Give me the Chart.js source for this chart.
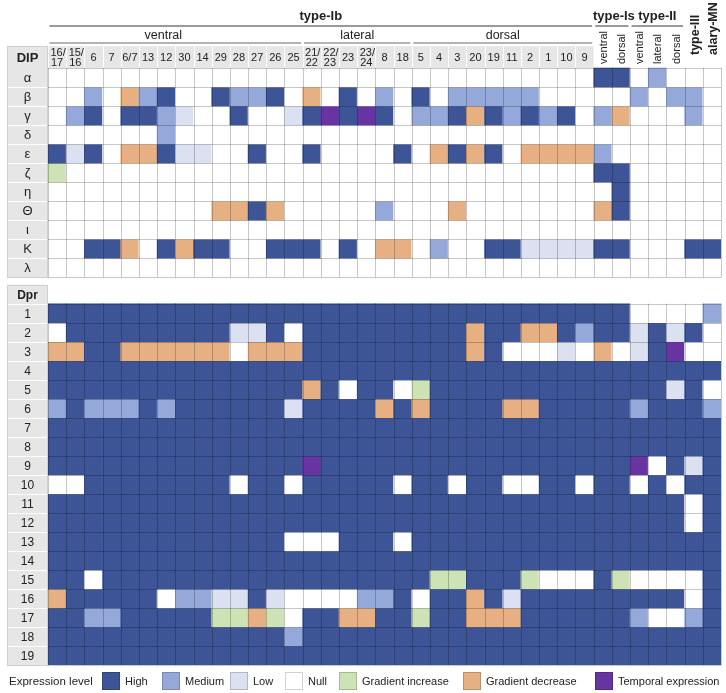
<!DOCTYPE html>
<html>
<head>
<meta charset="utf-8">
<script src="https://cdn.jsdelivr.net/npm/chart.js@4.4.1/dist/chart.umd.min.js"></script>
<style>
  body { margin: 0; background: #fff; }
  #wrap { width: 726px; height: 693px; }
</style>
</head>
<body>
<div id="wrap"><canvas id="heat"></canvas></div>
<script>
// columns (motor neuron targets / muscles)
const columns = ['16/17', '15/16', '6', '7', '6/7', '13', '12', '30', '14', '29', '28', '27', '26', '25',
  '21/22', '22/23', '23', '23/24', '8', '18',
  '5', '4', '3', '20', '19', '11', '2', '1', '10', '9',
  'ventral', 'dorsal', 'ventral', 'lateral', 'dorsal', 'type-III', 'alary-MN'];

const typeGroups = ['type-Ib', 'type-Is', 'type-II'];
const typeSpans = [[0, 29], [30, 31], [32, 34]];
const ibGroups = ['ventral', 'lateral', 'dorsal'];
const ibSpans = [[0, 13], [14, 19], [20, 29]];

// expression levels
const levelCodes = ['H', 'M', 'L', 'N', 'I', 'D', 'T'];
const levelNames = ['High', 'Medium', 'Low', 'Null', 'Gradient increase', 'Gradient decrease', 'Temporal expression'];
const levelColors = ['#3d5597', '#94a8d9', '#dbe1f1', '#ffffff', '#cde3b5', '#e6b083', '#6834a1'];

// DIP rows, one code per column (groups split by spaces)
const dipNames = ['α', 'β', 'γ', 'δ', 'ε', 'ζ', 'η', 'Θ', 'ι', 'Κ', 'λ'];
const dipLevels = [
  'NNNNNNNNNNNNNN NNNNNN NNNNNNNNNN HH NMN N N',
  'NNMNDMHNNHMMHN DNHNMN HNMMMMMNNN NN MNM M N',
  'NMHNHHMLNNHNNL HTHTHN MMHDHMHMHN MD NNN M N',
  'NNNNNNMNNNNNNN NNNNNN NNNNNNNNNN NN NNN N N',
  'HLHNDDHLLNNHNN HNNNNH NDHDHNDDDD MN NNN N N',
  'INNNNNNNNNNNNN NNNNNN NNNNNNNNNN HH NNN N N',
  'NNNNNNNNNNNNNN NNNNNN NNNNNNNNNN NH NNN N N',
  'NNNNNNNNNDDHDN NNNNMN NNDNNNNNNN DH NNN N N',
  'NNNNNNNNNNNNNN NNNNNN NNNNNNNNNN NN NNN N N',
  'NNHHDNHDHHNNHH HNHNDD NMNNHHLLLL HH NNN H H',
  'NNNNNNNNNNNNNN NNNNNN NNNNNNNNNN NN NNN N N'
];

// Dpr rows
const dprNames = ['1', '2', '3', '4', '5', '6', '7', '8', '9', '10', '11', '12', '13', '14', '15', '16', '17', '18', '19'];
const dprLevels = [
  'HHHHHHHHHHHHHH HHHHHH HHHHHHHHHH HH NNN N M',
  'NHHHHHHHHHLLHN HHHHHH HHHDHHDDHM HH LHL H N',
  'DDHHDDDDDDNDDD HHHHHH HHHDHNNNLN DN LHT N N',
  'HHHHHHHHHHHHHH HHHHHH HHHHHHHHHH HH HHH H H',
  'HHHHHHHHHHHHHH DHNHHN IHHHHHHHHH HH HHL H N',
  'MHMMMHMHHHHHHL HHHHDH DHHHHDDHHH HH MHH H M',
  'HHHHHHHHHHHHHH HHHHHH HHHHHHHHHH HH HHH H H',
  'HHHHHHHHHHHHHH HHHHHH HHHHHHHHHH HH HHH H H',
  'HHHHHHHHHHHHHH THHHHH HHHHHHHHHH HH TNH L H',
  'NNHHHHHHHHNHHN HHHHHN HHNHHNNHHN HH NHN H H',
  'HHHHHHHHHHHHHH HHHHHH HHHHHHHHHH HH HHH N H',
  'HHHHHHHHHHHHHH HHHHHH HHHHHHHHHH HH HHH N H',
  'HHHHHHHHHHHHHN NNHHHN HHHHHHHHHH HH HHH H H',
  'HHHHHHHHHHHHHH HHHHHH HHHHHHHHHH HH HHH H H',
  'HHNHHHHHHHHHHH HHHHHH HIIHHHINNN HI NNN N H',
  'DHHHHHNMMLLHLN NNNMMH NHHDHLHHHH HH HHH N H',
  'HHMMHHHHHIIDIN HHDDHH IHHDDDHHHH HH MNN M H',
  'HHHHHHHHHHHHHM HHHHHH HHHHHHHHHH HH HHH H H',
  'HHHHHHHHHHHHHH HHHHHH HHHHHHHHHH HH HHH H H'
];

// row positions on the y scale (1 unit = one row)
const dipTop = 1;
const dprTop = 13.4;
const yMax = dprTop + dprNames.length;

const FONT = '"Liberation Sans", Arial, sans-serif';
const colorOf = code => levelColors[levelCodes.indexOf(code)];

function rowDataset(name, levels, top) {
  const codes = levels.replace(/ /g, '').split('');
  return {
    label: name,
    data: columns.map(() => [top, top + 1]),
    backgroundColor: codes.map(colorOf),
    borderWidth: 0,
    grouped: false,
    barPercentage: 1,
    categoryPercentage: 1
  };
}

const datasets = [];
dipNames.forEach((n, i) => datasets.push(rowDataset('DIP-' + n, dipLevels[i], dipTop + i)));
dprNames.forEach((n, i) => datasets.push(rowDataset('Dpr' + n, dprLevels[i], dprTop + i)));

const frame = {
  id: 'frame',
  afterDatasetsDraw(chart) {
    const { ctx, chartArea: a, scales: { x, y } } = chart;
    const colL = i => x.getPixelForValue(i - 0.5);
    const colR = i => x.getPixelForValue(i + 0.5);
    const labL = 7;
    const line = (x1, y1, x2, y2) => { ctx.beginPath(); ctx.moveTo(x1, y1); ctx.lineTo(x2, y2); ctx.stroke(); };
    ctx.save();

    // grid over the cells
    ctx.strokeStyle = 'rgba(0,0,0,0.22)';
    ctx.lineWidth = 1;
    [[dipTop, dipNames.length], [dprTop, dprNames.length]].forEach(([top, n]) => {
      const t = y.getPixelForValue(top), b = y.getPixelForValue(top + n);
      for (let i = 0; i <= columns.length; i++) {
        const px = Math.round(colL(i)) + 0.5;
        line(px, t, px, b);
      }
      for (let r = 0; r <= n; r++) {
        const py = Math.round(y.getPixelForValue(top + r)) + 0.5;
        line(a.left, py, a.right, py);
      }
    });

    // DIP header band and row label columns
    const hTop = y.getPixelForValue(-0.15), hBot = y.getPixelForValue(dipTop);
    ctx.fillStyle = '#e6e6e6';
    ctx.fillRect(labL, hTop, colR(29) - labL, hBot - hTop);
    ctx.fillRect(labL, hBot, a.left - labL, y.getPixelForValue(dipTop + dipNames.length) - hBot);
    const pTop = y.getPixelForValue(dprTop - 1);
    ctx.fillRect(labL, pTop, a.left - labL, y.getPixelForValue(yMax) - pTop);

    ctx.strokeStyle = '#ffffff';
    for (let i = 0; i <= 29; i++) {
      const px = Math.round(colL(i)) + 0.5;
      line(px, hTop, px, hBot);
    }
    [[dipTop, dipNames.length], [dprTop - 1, dprNames.length + 1]].forEach(([top, n]) => {
      for (let r = 1; r < n + 1; r++) {
        const py = Math.round(y.getPixelForValue(top + r)) + 0.5;
        line(labL, py, a.left - 1, py);
      }
    });
    ctx.strokeStyle = '#d0d0d0';
    ctx.strokeRect(labL + 0.5, Math.round(hTop) + 0.5, a.left - labL - 1, Math.round(y.getPixelForValue(dipTop + dipNames.length) - hTop));
    ctx.strokeRect(labL + 0.5, Math.round(pTop) + 0.5, a.left - labL - 1, Math.round(y.getPixelForValue(yMax) - pTop));

    // row labels
    ctx.fillStyle = '#222';
    ctx.textAlign = 'center';
    ctx.textBaseline = 'middle';
    const labX = (labL + a.left) / 2;
    ctx.font = 'bold 13px ' + FONT;
    ctx.fillText('DIP', labX, (hTop + hBot) / 2 + 1);
    ctx.font = 'bold 12px ' + FONT;
    ctx.fillText('Dpr', labX, y.getPixelForValue(dprTop - 0.5) + 1);
    ctx.font = '13px ' + FONT;
    dipNames.forEach((n, i) => ctx.fillText(n, labX, y.getPixelForValue(dipTop + i + 0.5) + 1));
    ctx.font = '12px ' + FONT;
    dprNames.forEach((n, i) => ctx.fillText(n, labX, y.getPixelForValue(dprTop + i + 0.5) + 1));

    // column labels
    const hMid = (hTop + hBot) / 2 + 1;
    ctx.font = '11px ' + FONT;
    columns.slice(0, 30).forEach((c, i) => {
      const cx = x.getPixelForValue(i);
      if (c.includes('/') && c.length > 3) {
        const [p, q] = c.split('/');
        ctx.fillText(p + '/', cx + 1, hMid - 5.5);
        ctx.fillText(q, cx, hMid + 5);
      } else {
        ctx.fillText(c, cx, hMid);
      }
    });
    ctx.textAlign = 'left';
    columns.slice(30, 35).forEach((c, k) => {
      ctx.save();
      ctx.translate(x.getPixelForValue(30 + k) + 1, hBot - 4);
      ctx.rotate(-Math.PI / 2);
      ctx.font = '11px ' + FONT;
      ctx.fillText(c, 0, 0);
      ctx.restore();
    });
    columns.slice(35).forEach((c, k) => {
      ctx.save();
      ctx.translate(x.getPixelForValue(35 + k) + 2, 55);
      ctx.rotate(-Math.PI / 2);
      ctx.font = 'bold 12.5px ' + FONT;
      ctx.fillText(c, 0, 0);
      ctx.restore();
    });

    // group titles and rules
    ctx.textAlign = 'center';
    ctx.font = 'bold 13px ' + FONT;
    ctx.strokeStyle = '#9a9a9a';
    ctx.lineWidth = 2;
    typeGroups.forEach((g, k) => {
      const [s, e] = typeSpans[k];
      const l = colL(s) + 1.5, r = colR(e) - 1.5;
      ctx.fillText(g, (colL(s) + colR(e)) / 2 + (k === 1 ? 2 : 0), 16);
      line(l, 26, r, 26);
    });
    ctx.font = '12.5px ' + FONT;
    ctx.lineWidth = 1.5;
    ibGroups.forEach((g, k) => {
      const [s, e] = ibSpans[k];
      const l = colL(s) + 1.5, r = colR(e) - 1.5;
      ctx.fillText(g, (colL(s) + colR(e)) / 2 - (k === 0 ? 12 : 0), 35.5);
      line(l, 43, r, 43);
    });

    // legend
    const legendX = [102, 162, 230, 285, 339, 463, 595];
    ctx.textAlign = 'left';
    ctx.font = '11.5px ' + FONT;
    ctx.fillStyle = '#222';
    ctx.fillText('Expression level', 9, 681.5);
    ctx.font = '11px ' + FONT;
    levelNames.forEach((n, k) => {
      ctx.fillStyle = levelColors[k];
      ctx.fillRect(legendX[k], 672, 18, 18);
      ctx.strokeStyle = 'rgba(0,0,0,0.18)';
      ctx.lineWidth = 1;
      ctx.strokeRect(legendX[k] + 0.5, 672.5, 17, 17);
      ctx.fillStyle = '#222';
      ctx.fillText(n, legendX[k] + 23, 681.5);
    });
    ctx.restore();
  }
};

new Chart(document.getElementById('heat'), {
  type: 'bar',
  data: { labels: columns, datasets: datasets },
  options: {
    responsive: true,
    maintainAspectRatio: false,
    animation: false,
    layout: { padding: { left: 48, right: 5, top: 49, bottom: 28 } },
    plugins: { legend: { display: false }, tooltip: { enabled: false } },
    scales: {
      x: { type: 'category', display: false, offset: true },
      y: { type: 'linear', display: false, min: 0, max: yMax, reverse: true }
    }
  },
  plugins: [frame]
});
</script>
</body>
</html>
